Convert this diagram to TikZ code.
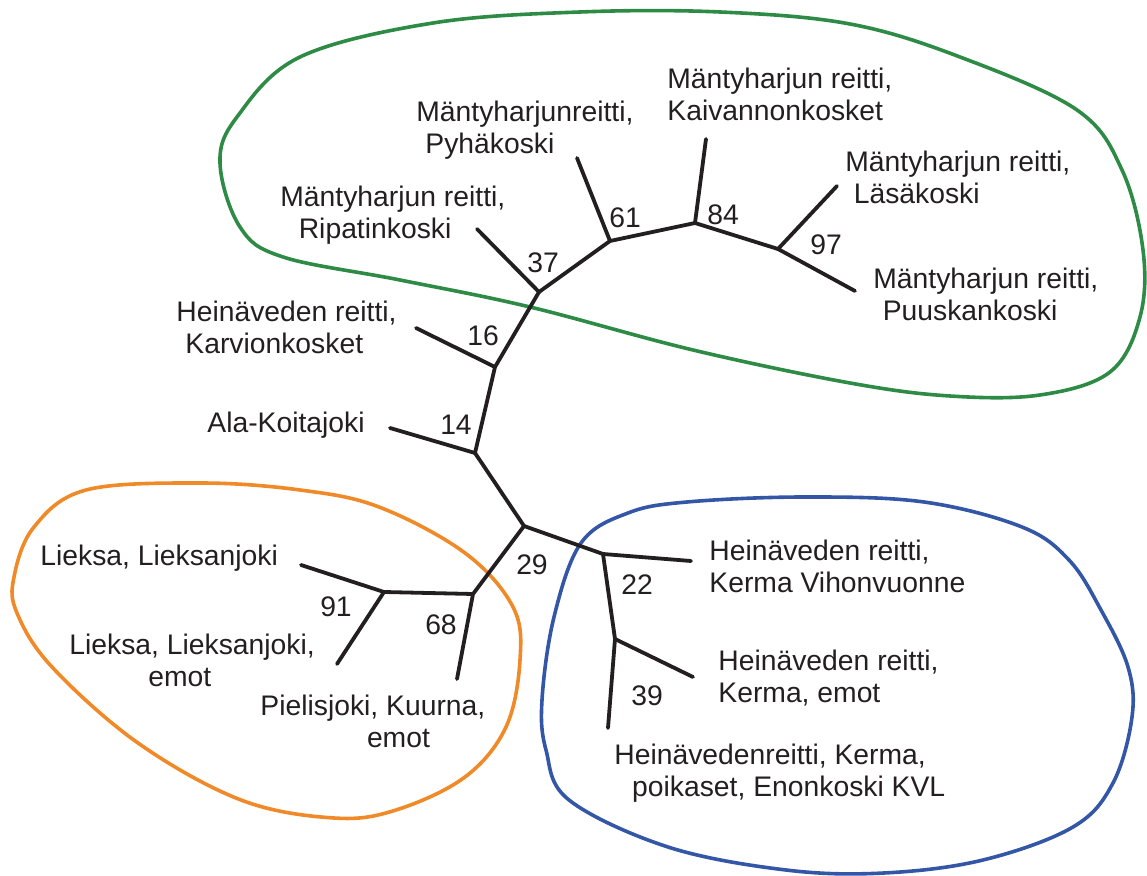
\documentclass[tikz,border=0pt]{standalone}
\usepackage{fontspec}
\setmainfont{Liberation Sans}
\definecolor{grn}{HTML}{2E8B46}
\definecolor{org}{HTML}{F08A28}
\definecolor{blu}{HTML}{3356A6}
\definecolor{ink}{HTML}{231F20}
\tikzset{
  branch/.style={draw=ink, line width=1.9pt, line cap=round, line join=round},
  blob/.style={line width=1.8pt},
  lbl/.style={anchor=base west, inner sep=0pt, align=left, text=ink, font=\fontsize{14.15}{16}\selectfont},
  num/.style={anchor=center, inner sep=0pt, text=ink, font=\fontsize{14.15}{16}\selectfont},
}
\begin{document}
\begin{tikzpicture}[x=0.5pt,y=-0.5pt]
\useasboundingbox (0,0) rectangle (1147,876);
% clusters
\draw[blob, grn] plot[smooth cycle, tension=0.6] coordinates {(720,12) (850,24) (960,57) (1077,110) (1122,170) (1143,250) (1140,317) (1110,372) (1040,395) (950,396) (850,383) (693,350) (530,307) (400,280) (283,257) (240,227) (220,163) (237,117) (300,57) (433,23) (580,12)};
\draw[blob, org] plot[smooth cycle, tension=0.6] coordinates {(200,483) (300,490) (379,507) (465,553) (513,607) (520,660) (506,727) (465,777) (396,810) (334,818) (241,800) (138,743) (52,667) (17,613) (14,577) (34,527) (86,490)};
\draw[blob, blu] plot[smooth cycle, tension=0.6] coordinates {(687,502) (805,497) (924,502) (1022,527) (1069,560) (1101,610) (1128,667) (1132,717) (1113,783) (1073,827) (983,860) (884,873) (786,870) (668,847) (569,800) (546,750) (542,700) (554,617) (581,543) (628,513)};
% tree points
\coordinate (n61) at (610,241);
\coordinate (pyh) at (577,158);
\coordinate (n84) at (695,223);
\coordinate (kai) at (706,139);
\coordinate (n97) at (778,249);
\coordinate (las) at (837,186);
\coordinate (puu) at (855,291);
\coordinate (n37) at (539,292);
\coordinate (rip) at (477,229);
\coordinate (n16) at (495,367);
\coordinate (kar) at (416,328);
\coordinate (n14) at (475,453);
\coordinate (ala) at (390,428);
\coordinate (n29) at (524,526);
\coordinate (n22) at (603,554);
\coordinate (vih) at (691,561);
\coordinate (n39) at (615,639);
\coordinate (kem) at (693,677);
\coordinate (poi) at (608,728);
\coordinate (n68) at (473,594);
\coordinate (pie) at (457,679);
\coordinate (n91) at (384,592);
\coordinate (lie) at (301,565);
\coordinate (lem) at (337,664);
% branches
\draw[branch] (n37) -- (n61);
\draw[branch] (n61) -- (n84);
\draw[branch] (n84) -- (n97);
\draw[branch] (n61) -- (pyh);
\draw[branch] (n84) -- (kai);
\draw[branch] (n97) -- (las);
\draw[branch] (n97) -- (puu);
\draw[branch] (n37) -- (rip);
\draw[branch] (n37) -- (n16);
\draw[branch] (n16) -- (kar);
\draw[branch] (n16) -- (n14);
\draw[branch] (n14) -- (ala);
\draw[branch] (n14) -- (n29);
\draw[branch] (n29) -- (n22);
\draw[branch] (n22) -- (vih);
\draw[branch] (n22) -- (n39);
\draw[branch] (n39) -- (kem);
\draw[branch] (n39) -- (poi);
\draw[branch] (n29) -- (n68);
\draw[branch] (n68) -- (n91);
\draw[branch] (n68) -- (pie);
\draw[branch] (n91) -- (lie);
\draw[branch] (n91) -- (lem);
% bootstrap values
\node[num] (b61) at (625,218) {61};
\node[num] (b84) at (723,215) {84};
\node[num] (b97) at (826,245) {97};
\node[num] (b37) at (543,263) {37};
\node[num] (b16) at (483,336) {16};
\node[num] (b14) at (456,425) {14};
\node[num] (b29) at (532,565) {29};
\node[num] (b22) at (637,585) {22};
\node[num] (b39) at (647,696) {39};
\node[num] (b68) at (441,625) {68};
\node[num] (b91) at (336,607) {91};
% leaf labels (anchored at the baseline of the last line)
\node[lbl] (tkai) at (667,121) {Mäntyharjun reitti,\\Kaivannonkosket};
\node[lbl] (tpyh) at (416,154) {Mäntyharjunreitti,\\\hspace*{4.5pt}Pyhäkoski};
\node[lbl] (tlas) at (845,204) {Mäntyharjun reitti,\\\hspace*{4.2pt}Läsäkoski};
\node[lbl] (trip) at (280,239) {Mäntyharjun reitti,\\\hspace*{9.2pt}Ripatinkoski};
\node[lbl] (tkar) at (176,354) {Heinäveden reitti,\\\hspace*{4.5pt}Karvionkosket};
\node[lbl] (tpuu) at (873,321) {Mäntyharjun reitti,\\\hspace*{4.7pt}Puuskankoski};
\node[lbl] (tala) at (207,433) {Ala-Koitajoki};
\node[lbl] (tlie) at (40,566) {Lieksa, Lieksanjoki};
\node[lbl] (tlem) at (69,687) {Lieksa, Lieksanjoki,\\\hspace*{39.5pt}emot};
\node[lbl] (tpie) at (260,748) {Pielisjoki, Kuurna,\\\hspace*{53.3pt}emot};
\node[lbl] (tvih) at (709,593) {Heinäveden reitti,\\Kerma Vihonvuonne};
\node[lbl] (tkem) at (718,703) {Heinäveden reitti,\\Kerma, emot};
\node[lbl] (tpoi) at (614,797) {Heinävedenreitti, Kerma,\\\hspace*{8.9pt}poikaset, Enonkoski KVL};
\end{tikzpicture}
\end{document}
